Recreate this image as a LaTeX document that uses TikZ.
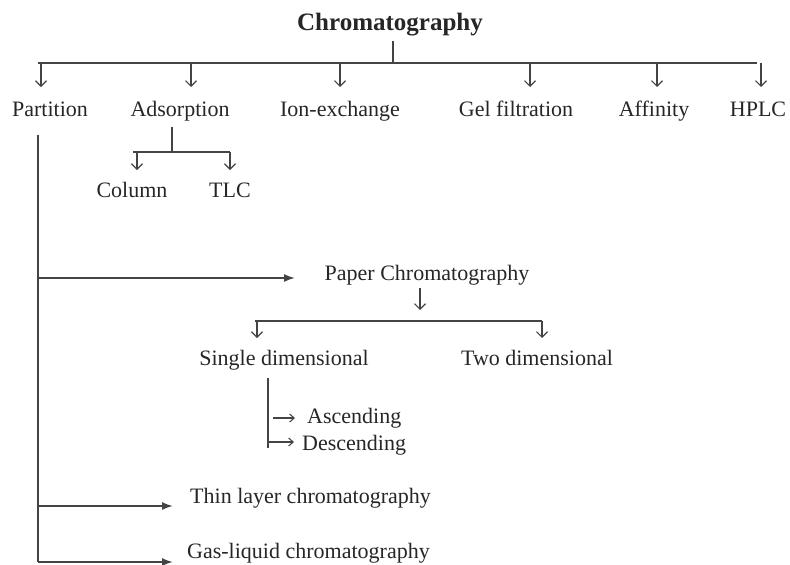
\documentclass[tikz,border=0pt]{standalone}
\usepackage{fontspec}
\setmainfont{Liberation Serif}
\usetikzlibrary{arrows.meta,positioning}

\definecolor{inkgray}{HTML}{262626}
\definecolor{wiregray}{HTML}{444444}

\begin{document}
\begin{tikzpicture}[
  x=1pt,y=-1pt,
  font=\fontsize{22}{24}\selectfont,
  txt/.style  ={text=inkgray,inner sep=0pt,text height=15pt,text depth=5pt},
  head/.style ={text=inkgray,inner sep=0pt,font=\fontsize{25}{27}\selectfont\bfseries,
                text height=17pt,text depth=6pt},
  wire/.style ={draw=wiregray,line width=1.7pt},
  drop/.style ={draw=wiregray,line width=1.1pt,-{Straight Barb[length=5.5pt,width=11pt]}},
  poke/.style ={draw=wiregray,line width=1.1pt,-{Straight Barb[length=4.5pt,width=8pt]}},
  feed/.style ={draw=wiregray,line width=1.7pt,-{Latex[length=11pt,width=8pt]}},
]
\useasboundingbox (0,0) rectangle (790,565);

%% =====================================================
%%  Title and main bus
%% =====================================================
\node[head] (chrom) at (390,25) {Chromatography};

\coordinate (busL)   at (38,63);
\coordinate (busR)   at (757,63);
\coordinate (busmid) at (393,63);
\draw[wire] (busL) -- (busR);
\draw[wire,line width=1.1pt,shorten <=4pt] (chrom.south -| busmid) -- (busmid);

%% =====================================================
%%  First row of methods
%% =====================================================
\node[txt] (part)  at (50,111)  {Partition};
\node[txt] (adsorp) at (180,111) {Adsorption};
\node[txt] (ion)   at (340,111) {Ion-exchange};
\node[txt] (gel)   at (516,111) {Gel filtration};
\node[txt] (aff)   at (654,111) {Affinity};
\node[txt] (hplc)  at (758,111) {HPLC};

\coordinate (partin) at (41,87);
\coordinate (adsin)  at (191,87);
\coordinate (ionin)  at (340,87);
\coordinate (gelin)  at (530,87);
\coordinate (affin)  at (657,87);
\coordinate (hplcin) at (761,87);

\draw[drop] (busL -| partin) -- (partin);
\draw[drop] (busL -| adsin)  -- (adsin);
\draw[drop] (busL -| ionin)  -- (ionin);
\draw[drop] (busL -| gelin)  -- (gelin);
\draw[drop] (busL -| affin)  -- (affin);
\draw[drop] (busL -| hplcin) -- (hplcin);

%% =====================================================
%%  Adsorption branch
%% =====================================================
\node[txt] (column) at (132,192) {Column};
\node[txt] (tlc)    at (230,192) {TLC};

\coordinate (adsL)   at (133,152);
\coordinate (adsR)   at (230,152);
\coordinate (adsmid) at (172,152);
\coordinate (colin)  at (137,170);
\coordinate (tlcin)  at (230,170);

\draw[wire,line width=1.1pt,shorten <=6pt] (adsorp.south -| adsmid) -- (adsmid);
\draw[wire] (adsL) -- (adsR);
\draw[drop] (adsL -| colin) -- (colin);
\draw[drop] (adsR) -- (tlcin);

%% =====================================================
%%  Partition branch
%% =====================================================
\coordinate (pbot) at (38,562);
\draw[wire,shorten <=14pt] (part.south -| pbot) -- (pbot);

\node[txt] (paper) at (427,275) {Paper Chromatography};
\coordinate (paperin) at (295,278);
\draw[feed] (pbot |- paperin) -- (paperin);

\node[txt,anchor=west] (thin) at (190,498) {Thin layer chromatography};
\coordinate (thinin) at (173,506);
\draw[feed] (pbot |- thinin) -- (thinin);

\node[txt,anchor=west] (gas) at (187,553) {Gas-liquid chromatography};
\coordinate (gasin) at (173,562);
\draw[feed] (pbot) -- (gasin);

%% =====================================================
%%  Paper chromatography branch
%% =====================================================
\coordinate (pdrop) at (420,310);
\draw[drop,shorten <=3pt] (paper.south -| pdrop) -- (pdrop);

\node[txt] (single) at (284,360) {Single dimensional};
\node[txt] (two)    at (537,360) {Two dimensional};

\coordinate (dimL)   at (255,321);
\coordinate (dimR)   at (542,321);
\coordinate (singin) at (257,338);
\coordinate (twoin)  at (542,338);

\draw[wire] (dimL) -- (dimR);
\draw[drop] (dimL -| singin) -- (singin);
\draw[drop] (dimR) -- (twoin);

% ascending / descending
\node[txt,anchor=west] (asc)  at (307,418) {Ascending};
\node[txt,anchor=west] (desc) at (302,445) {Descending};

\coordinate (stemtop) at (268,378);
\coordinate (stembot) at (268,448);
\draw[wire,line width=1.1pt] (stemtop) -- (stembot);
\draw[poke,shorten <=5pt,shorten >=12pt] (stemtop |- asc.west) -- (asc.west);
\draw[poke,shorten >=8pt] (stemtop |- 0,442) -- (desc.west |- 0,442);

\end{tikzpicture}
\end{document}
